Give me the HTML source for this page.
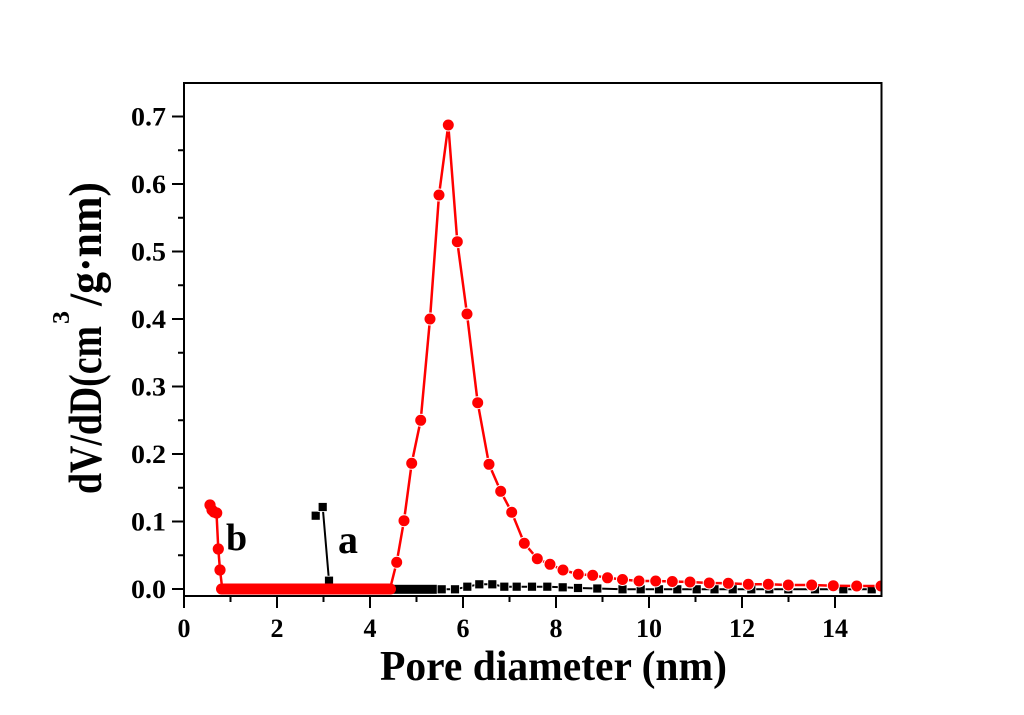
<!DOCTYPE html>
<html>
<head>
<meta charset="utf-8">
<style>
  html, body { margin: 0; padding: 0; background: #fff; }
  svg { display: block; }
  text { font-family: "Liberation Serif", "Times New Roman", serif; font-weight: bold; fill: #000; }
</style>
</head>
<body>
<svg width="1024" height="715" viewBox="0 0 1024 715" xmlns="http://www.w3.org/2000/svg">
  <rect x="0" y="0" width="1024" height="715" fill="#fff"/>
  <defs>
    <clipPath id="plot">
      <rect x="184" y="83" width="697.5" height="513"/>
    </clipPath>
  </defs>

  <g clip-path="url(#plot)">
    <!-- Series a (black squares) -->
    <polyline fill="none" stroke="#000" stroke-width="2"
      points="315.7,515.7 322.7,507 329,580.7 333,589 437,589.3 441.7,589.3 455,589.3 467.3,586.7 479.3,584.3 492.3,584.3 504.3,586.7 516.7,586.7 532,586.7 547.3,586.7 562.7,587.3 578,588 597.3,588.5 622.5,589.3 640.7,589.3 659,589.3 677.3,589.3 696.7,589.3 714.5,589.3 732.7,589.3 751.3,589.3 769.3,589.3 788.3,589.3 815,589.3 843.3,589.3 871.7,589.3 885,589.3"/>
    <rect x="330" y="584.8" width="107" height="9" fill="#000"/>
    <g fill="#000" stroke="#fff" stroke-width="0.8">
      <rect x="311.2" y="511.2" width="9" height="9"/>
      <rect x="318.2" y="502.5" width="9" height="9"/>
      <rect x="324.5" y="576.2" width="9" height="9"/>
      <rect x="437.2" y="584.8" width="9" height="9"/>
      <rect x="450.5" y="584.8" width="9" height="9"/>
      <rect x="462.8" y="582.2" width="9" height="9"/>
      <rect x="474.8" y="579.8" width="9" height="9"/>
      <rect x="487.8" y="579.8" width="9" height="9"/>
      <rect x="499.8" y="582.2" width="9" height="9"/>
      <rect x="512.2" y="582.2" width="9" height="9"/>
      <rect x="527.5" y="582.2" width="9" height="9"/>
      <rect x="542.8" y="582.2" width="9" height="9"/>
      <rect x="558.2" y="582.8" width="9" height="9"/>
      <rect x="573.5" y="583.5" width="9" height="9"/>
      <rect x="592.8" y="584" width="9" height="9"/>
      <rect x="618" y="584.8" width="9" height="9"/>
      <rect x="636.2" y="584.8" width="9" height="9"/>
      <rect x="654.5" y="584.8" width="9" height="9"/>
      <rect x="672.8" y="584.8" width="9" height="9"/>
      <rect x="692.2" y="584.8" width="9" height="9"/>
      <rect x="710" y="584.8" width="9" height="9"/>
      <rect x="728.2" y="584.8" width="9" height="9"/>
      <rect x="746.8" y="584.8" width="9" height="9"/>
      <rect x="764.8" y="584.8" width="9" height="9"/>
      <rect x="783.8" y="584.8" width="9" height="9"/>
      <rect x="810.5" y="584.8" width="9" height="9"/>
      <rect x="838.8" y="584.8" width="9" height="9"/>
      <rect x="867.2" y="584.8" width="9" height="9"/>
    </g>

    <!-- Series b (red circles) -->
    <polyline fill="none" stroke="#ff0000" stroke-width="2.5" stroke-linejoin="round"
      points="210,505 212,511 216.5,513 218.3,549 220,570 222.3,589 390,589 396.7,562.3 404,520.7 411.7,463.3 420.7,420.3 430,319 439,195 448.3,125 457.3,241.7 467,314 477.7,402.7 489,464.3 500.7,491.3 511.7,512.3 524.3,543.3 537.3,558.7 550,564.3 563,570 578.3,574.3 592.7,575.3 607.5,577.8 622.5,579.5 639,581 655.7,581 672.3,581.5 690,582 709.2,583 728.3,583.3 748.3,584.3 768.3,584.3 788.3,585 811.7,585 833.3,585.7 856.7,586 881,586"/>
    <rect x="216" y="583.5" width="180" height="11" rx="5.5" fill="#ff0000"/>
    <g fill="#ff0000">
      <circle cx="210" cy="505" r="5.6"/>
      <circle cx="212" cy="510" r="5.6"/>
      <circle cx="214" cy="512" r="5.6"/>
      <circle cx="216.7" cy="513" r="5.6"/>
      <circle cx="218.3" cy="549" r="5.6"/>
      <circle cx="220" cy="570" r="5.6"/>
    </g>
    <g fill="#ff0000" stroke="#fff" stroke-width="1">
      <circle cx="396.7" cy="562.3" r="6"/>
      <circle cx="404" cy="520.7" r="6"/>
      <circle cx="411.7" cy="463.3" r="6"/>
      <circle cx="420.7" cy="420.3" r="6"/>
      <circle cx="430" cy="319" r="6"/>
      <circle cx="439" cy="195" r="6"/>
      <circle cx="448.3" cy="125" r="6"/>
      <circle cx="457.3" cy="241.7" r="6"/>
      <circle cx="467" cy="314" r="6"/>
      <circle cx="477.7" cy="402.7" r="6"/>
      <circle cx="489" cy="464.3" r="6"/>
      <circle cx="500.7" cy="491.3" r="6"/>
      <circle cx="511.7" cy="512.3" r="6"/>
      <circle cx="524.3" cy="543.3" r="6"/>
      <circle cx="537.3" cy="558.7" r="6"/>
      <circle cx="550" cy="564.3" r="6"/>
      <circle cx="563" cy="570" r="6"/>
      <circle cx="578.3" cy="574.3" r="6"/>
      <circle cx="592.7" cy="575.3" r="6"/>
      <circle cx="607.5" cy="577.8" r="6"/>
      <circle cx="622.5" cy="579.5" r="6"/>
      <circle cx="639" cy="581" r="6"/>
      <circle cx="655.7" cy="581" r="6"/>
      <circle cx="672.3" cy="581.5" r="6"/>
      <circle cx="690" cy="582" r="6"/>
      <circle cx="709.2" cy="583" r="6"/>
      <circle cx="728.3" cy="583.3" r="6"/>
      <circle cx="748.3" cy="584.3" r="6"/>
      <circle cx="768.3" cy="584.3" r="6"/>
      <circle cx="788.3" cy="585" r="6"/>
      <circle cx="811.7" cy="585" r="6"/>
      <circle cx="833.3" cy="585.7" r="6"/>
      <circle cx="856.7" cy="586" r="6"/>
      <circle cx="881" cy="586" r="6"/>
    </g>
  </g>

  <!-- Frame -->
  <rect x="184" y="83" width="697.5" height="513" fill="none" stroke="#000" stroke-width="2"/>

  <!-- Y ticks -->
  <g stroke="#000" stroke-width="2">
    <line x1="172" y1="589" x2="184" y2="589"/>
    <line x1="172" y1="521.5" x2="184" y2="521.5"/>
    <line x1="172" y1="454" x2="184" y2="454"/>
    <line x1="172" y1="386.5" x2="184" y2="386.5"/>
    <line x1="172" y1="319" x2="184" y2="319"/>
    <line x1="172" y1="251.5" x2="184" y2="251.5"/>
    <line x1="172" y1="184" x2="184" y2="184"/>
    <line x1="172" y1="116.5" x2="184" y2="116.5"/>
    <line x1="178" y1="555.25" x2="184" y2="555.25"/>
    <line x1="178" y1="487.75" x2="184" y2="487.75"/>
    <line x1="178" y1="420.25" x2="184" y2="420.25"/>
    <line x1="178" y1="352.75" x2="184" y2="352.75"/>
    <line x1="178" y1="285.25" x2="184" y2="285.25"/>
    <line x1="178" y1="217.75" x2="184" y2="217.75"/>
    <line x1="178" y1="150.25" x2="184" y2="150.25"/>
  </g>
  <!-- X ticks -->
  <g stroke="#000" stroke-width="2">
    <line x1="184" y1="596" x2="184" y2="608"/>
    <line x1="277" y1="596" x2="277" y2="608"/>
    <line x1="370" y1="596" x2="370" y2="608"/>
    <line x1="463" y1="596" x2="463" y2="608"/>
    <line x1="556" y1="596" x2="556" y2="608"/>
    <line x1="649" y1="596" x2="649" y2="608"/>
    <line x1="742" y1="596" x2="742" y2="608"/>
    <line x1="835" y1="596" x2="835" y2="608"/>
    <line x1="230.5" y1="596" x2="230.5" y2="602"/>
    <line x1="323.5" y1="596" x2="323.5" y2="602"/>
    <line x1="416.5" y1="596" x2="416.5" y2="602"/>
    <line x1="509.5" y1="596" x2="509.5" y2="602"/>
    <line x1="602.5" y1="596" x2="602.5" y2="602"/>
    <line x1="695.5" y1="596" x2="695.5" y2="602"/>
    <line x1="788.5" y1="596" x2="788.5" y2="602"/>
  </g>

  <!-- Y tick labels -->
  <g font-size="26" text-anchor="end">
    <text x="166" y="598" textLength="35" lengthAdjust="spacingAndGlyphs">0.0</text>
    <text x="166" y="530.5" textLength="35" lengthAdjust="spacingAndGlyphs">0.1</text>
    <text x="166" y="463" textLength="35" lengthAdjust="spacingAndGlyphs">0.2</text>
    <text x="166" y="395.5" textLength="35" lengthAdjust="spacingAndGlyphs">0.3</text>
    <text x="166" y="328" textLength="35" lengthAdjust="spacingAndGlyphs">0.4</text>
    <text x="166" y="260.5" textLength="35" lengthAdjust="spacingAndGlyphs">0.5</text>
    <text x="166" y="193" textLength="35" lengthAdjust="spacingAndGlyphs">0.6</text>
    <text x="166" y="125.5" textLength="35" lengthAdjust="spacingAndGlyphs">0.7</text>
  </g>

  <!-- X tick labels -->
  <g font-size="26" text-anchor="middle">
    <text x="184" y="637">0</text>
    <text x="277" y="637">2</text>
    <text x="370" y="637">4</text>
    <text x="463" y="637">6</text>
    <text x="556" y="637">8</text>
    <text x="649" y="637">10</text>
    <text x="742" y="637">12</text>
    <text x="835" y="637">14</text>
  </g>

  <!-- Axis titles -->
  <text x="380" y="680" font-size="42" textLength="347" lengthAdjust="spacingAndGlyphs">Pore diameter (nm)</text>

  <g transform="translate(101,494) rotate(-90)">
    <text x="0" y="0" font-size="47" textLength="168" lengthAdjust="spacingAndGlyphs">dV/dD(cm</text>
    <text x="170" y="-32" font-size="24" textLength="13" lengthAdjust="spacingAndGlyphs">3</text>
    <text x="188" y="0" font-size="47" textLength="124" lengthAdjust="spacingAndGlyphs">/g·nm)</text>
  </g>

  <!-- Series labels -->
  <text x="226" y="550" font-size="38">b</text>
  <text x="338" y="553" font-size="40">a</text>
</svg>
</body>
</html>
